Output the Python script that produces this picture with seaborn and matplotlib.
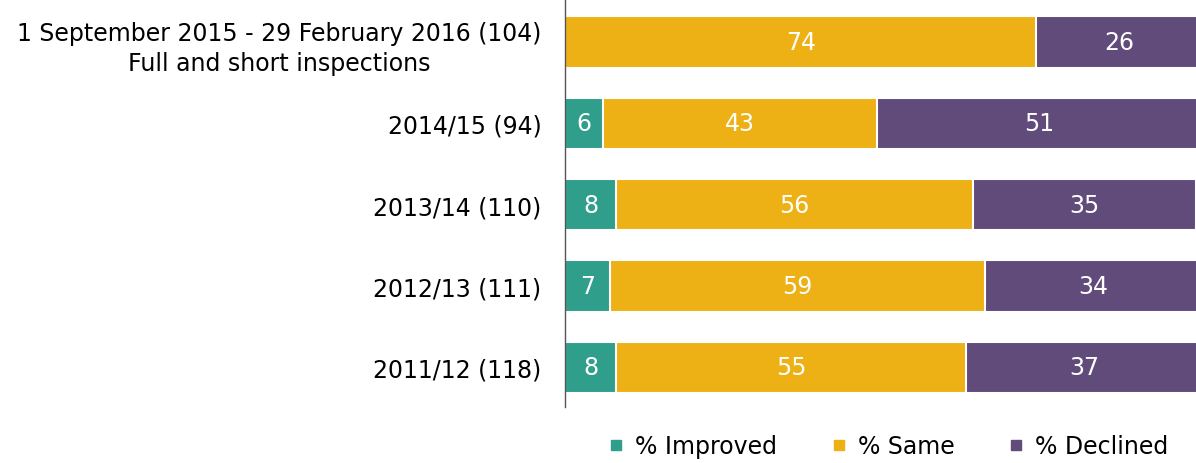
import matplotlib
matplotlib.use("Agg")
import matplotlib.pyplot as plt
from matplotlib.lines import Line2D
import seaborn as sns
import numpy as np
import pandas as pd

# data
periods = ["1 September 2015 - 29 February 2016 (104)\nFull and short inspections",
           "2014/15 (94)", "2013/14 (110)", "2012/13 (111)", "2011/12 (118)"]
improved = [np.nan, 6, 8, 7, 8]
same = [74, 43, 56, 59, 55]
declined = [26, 51, 35, 34, 37]

series = ["% Improved", "% Same", "% Declined"]
colors = ["#2F9E8B", "#EEB115", "#604B7B"]

df = pd.DataFrame({"period": periods, "Improved": improved,
                   "Same": same, "Declined": declined})
imp0 = df["Improved"].fillna(0)
df["cum_imp"] = df["Improved"]
df["cum_same"] = imp0 + df["Same"]
df["cum_dec"] = imp0 + df["Same"] + df["Declined"]

sns.set_style("white")
plt.rcParams["font.family"] = ["DejaVu Sans"]
plt.rcParams["text.color"] = "black"

fig = plt.figure(figsize=(11.96, 4.64), dpi=100)
ax = fig.add_axes([565 / 1196, 56 / 464, 637 / 1196, 408 / 464])

# stacked by overdrawing cumulative totals, back to front
for col, c in zip(["cum_dec", "cum_same", "cum_imp"], colors[::-1]):
    sns.barplot(data=df, x=col, y="period", color=c, width=0.63,
                edgecolor="white", linewidth=1.5, saturation=1, ax=ax)

# segment labels
lefts = np.zeros(len(df))
for col in ["Improved", "Same", "Declined"]:
    vals = df[col].to_numpy()
    for i, v in enumerate(vals):
        if np.isnan(v):
            continue
        ax.text(lefts[i] + v / 2, i, f"{int(v)}", ha="center", va="center",
                color="white", fontsize=17)
        lefts[i] += v

ax.set_xlim(0, 100)
ax.set_ylim(len(df) - 0.51, -0.53)
ax.set_xlabel("")
ax.set_ylabel("")
ax.set_xticks([])
for s in ["top", "right", "bottom"]:
    ax.spines[s].set_visible(False)
ax.spines["left"].set_color("#555555")
ax.spines["left"].set_linewidth(1)
ax.tick_params(axis="y", length=0, labelsize=17, pad=17, labelcolor="black")
for lab in ax.get_yticklabels():
    lab.set_multialignment("center")
    lab.set_linespacing(1.35)

handles = [Line2D([], [], marker="s", linestyle="", color=c, markersize=7.5)
           for c in colors]
fig.legend(handles, series, loc="center", bbox_to_anchor=(0.741, 0.037),
           ncol=3, frameon=False, fontsize=17, handletextpad=0.3,
           columnspacing=2.1, handlelength=1.0)

fig.savefig("out.png", dpi=100)
